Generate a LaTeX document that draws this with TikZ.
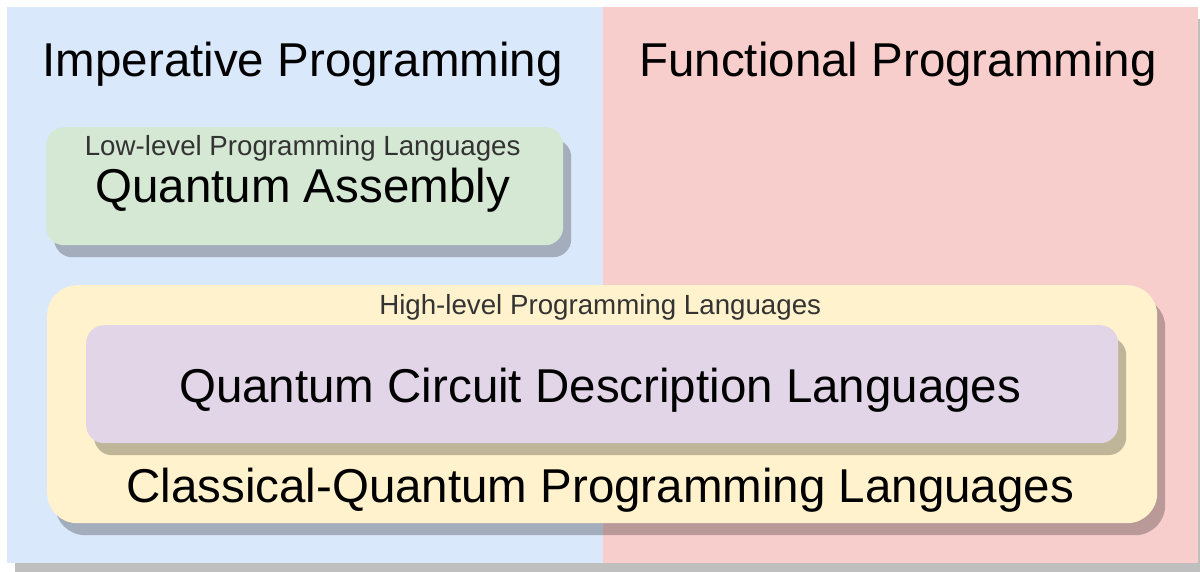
\documentclass[tikz,border=0pt]{standalone}
\usepackage{fontspec}
\setmainfont{Liberation Sans}
\usetikzlibrary{shadows,positioning}
\definecolor{impblue}{HTML}{DAE8FC}
\definecolor{funred}{HTML}{F8CECC}
\definecolor{asmgreen}{HTML}{D5E8D4}
\definecolor{highyellow}{HTML}{FFF2CC}
\definecolor{circpurple}{HTML}{E1D5E7}
\definecolor{labelgray}{HTML}{333333}

\begin{document}
\begin{tikzpicture}[x=1pt, y=-1pt]
	\tikzstyle{flat} = [rectangle, inner sep=0pt, anchor=north west]
	\tikzstyle{panel} = [flat, drop shadow={shadow xshift=8pt, shadow yshift=-12pt, opacity=0.25, fill=black}]
	\tikzstyle{langbox} = [panel, rounded corners=18pt]
	\tikzstyle{bigtext} = [font=\fontsize{47.5}{57}\selectfont, inner sep=0pt, anchor=base, xshift=-2pt]
	\tikzstyle{smalltext} = [font=\fontsize{27.7}{33}\selectfont, text=labelgray, inner sep=0pt, anchor=base, xshift=-2pt]
	\useasboundingbox (0,0) rectangle (1200,572);
	
	% the two paradigms
	\node[panel, fill=impblue, minimum width=1190pt, minimum height=556pt] (frame) at (7,7) {};
	\node[flat, fill=impblue, minimum width=595pt, minimum height=556pt] (imp) at (7,7) {};
	\node[flat, fill=funred, minimum width=595pt, minimum height=556pt, right=0pt of imp] (fun) {};
	\node[bigtext] (imptitle) at ([yshift=-70pt]imp.north) {Imperative Programming};
	\node[bigtext] (funtitle) at ([yshift=-70pt]fun.north) {Functional Programming};
	
	% low level
	\node[langbox, fill=asmgreen, minimum width=517pt, minimum height=118pt] (asm) at (46,127) {};
	\node[smalltext] (lowlbl) at ([yshift=-29pt]asm.north) {Low-level Programming Languages};
	\node[bigtext] (asmtext) at ([yshift=-76pt]asm.north) {Quantum Assembly};
	
	% high level
	\node[langbox, rounded corners=30pt, fill=highyellow, minimum width=1110pt, minimum height=238pt] (high) at (47,285) {};
	\node[smalltext] (highlbl) at ([yshift=-30pt]high.north) {High-level Programming Languages};
	\node[langbox, fill=circpurple, minimum width=1032pt, minimum height=118pt] (circ) at (86,325) {};
	\node[bigtext] (circtext) at ([yshift=-77pt]circ.north) {Quantum Circuit Description Languages};
	\node[bigtext] (cqtext) at ([yshift=21pt]high.south) {Classical-Quantum Programming Languages};
	
\end{tikzpicture}
\end{document}
